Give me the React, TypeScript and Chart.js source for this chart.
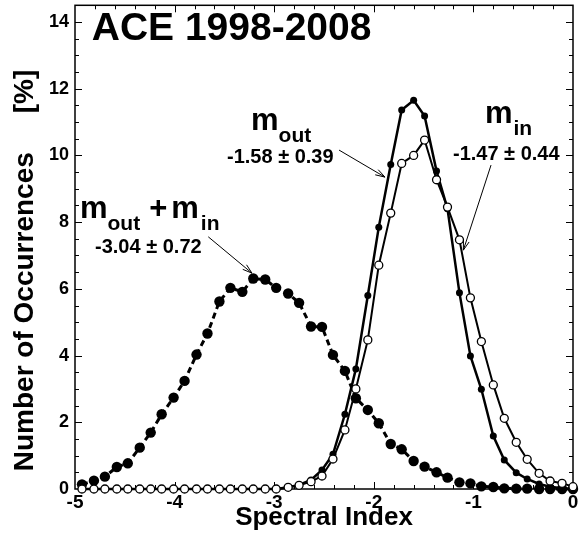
import React, { useEffect, useRef } from "react";
import { Chart, registerables } from "chart.js";

Chart.register(...registerables);

// ---- data ----
const xBins = [
  -4.93, -4.81, -4.7, -4.58, -4.47, -4.35, -4.24, -4.13, -4.01, -3.9, -3.78,
  -3.67, -3.55, -3.44, -3.32, -3.21, -3.09, -2.98, -2.86, -2.75, -2.63, -2.52,
  -2.41, -2.29, -2.18, -2.06, -1.95, -1.83, -1.72, -1.6, -1.49, -1.37, -1.26,
  -1.14, -1.03, -0.92, -0.8, -0.69, -0.57, -0.46, -0.34, -0.23, -0.11, 0.0,
];
const sumVals = [
  0.14, 0.25, 0.37, 0.66, 0.77, 1.24, 1.69, 2.24, 2.74, 3.24, 4.03,
  4.66, 5.62, 6.03, 5.91, 6.31, 6.28, 6.03, 5.86, 5.58, 4.87, 4.86,
  4.02, 3.54, 2.72, 2.37, 1.97, 1.35, 1.19, 0.84, 0.67, 0.5, 0.34,
  0.2, 0.17, 0.08, 0.06, 0.02, 0.01, 0.01, 0.0, 0.0, 0.0, 0.0,
];
const outVals = [
  0, 0, 0, 0, 0, 0, 0, 0, 0, 0, 0,
  0, 0, 0, 0, 0, 0, 0.0, 0.05, 0.12, 0.27, 0.57,
  1.04, 2.24, 3.6, 5.8, 7.85, 9.73, 11.36, 11.65, 11.18, 9.53, 8.4,
  5.88, 3.99, 2.99, 1.59, 0.87, 0.49, 0.3, 0.15, 0.07, 0.02, 0.0,
];
const inVals = [
  0, 0, 0, 0, 0, 0, 0, 0, 0, 0, 0,
  0, 0, 0, 0, 0, 0, 0.0, 0.05, 0.11, 0.22, 0.39,
  0.9, 1.77, 3.0, 4.47, 6.71, 8.27, 9.76, 10.0, 10.46, 9.27, 8.45,
  7.47, 5.73, 4.42, 3.12, 2.12, 1.4, 0.89, 0.47, 0.24, 0.17, 0.07,
];

const xMin = -5;
const xMax = 0;
const yMin = 0;
const yMax = 14.5;
const xMajorStep = 1;
const xMinorStep = 0.2;
const yMajorStep = 2;
const yMinorStep = 0.5;

const titleText = "ACE 1998-2008";
const xTitle = "Spectral Index";
const yTitle = "Number of Occurrences     [%]      ";
const sumStat = "-3.04 ± 0.72";
const outStat = "-1.58 ± 0.39";
const inStat = "-1.47 ± 0.44";

// annotation anchors (data coordinates)
const titlePos = { x: -4.832, y: 13.47 };
const sumLabelPos = { x: -4.95, y: 8.11 };
const sumStatPos = { x: -4.799, y: 7.07 };
const sumArrow = { x1: -3.662, y1: 7.56, x2: -3.223, y2: 6.47 };
const outLabelPos = { x: -3.233, y: 10.75 };
const outStatPos = { x: -3.474, y: 9.76 };
const outArrow = { x1: -2.349, y1: 10.16, x2: -1.888, y2: 9.35 };
const inLabelPos = { x: -0.884, y: 10.96 };
const inStatPos = { x: -1.205, y: 9.86 };
const inArrow = { x1: -0.823, y1: 9.71, x2: -1.101, y2: 7.16 };

const FONT = '"Liberation Sans", Arial, Helvetica, sans-serif';

const toPoints = (vals: number[]) => vals.map((v, i) => ({ x: xBins[i], y: v }));

const framePlugin = {
  id: "frameTicks",
  beforeDatasetsDraw(chart: any) {
    const { ctx, chartArea, scales } = chart;
    const xs = scales.x;
    const ys = scales.y;
    const { left, right, top, bottom } = chartArea;
    ctx.save();
    ctx.strokeStyle = "#000";
    ctx.lineWidth = 1;
    ctx.beginPath();
    const nX = Math.round((xMax - xMin) / xMinorStep);
    for (let i = 1; i < nX; i++) {
      const v = xMin + i * xMinorStep;
      const major = Math.abs(v / xMajorStep - Math.round(v / xMajorStep)) < 1e-6;
      const len = major ? 7 : 4;
      const p = Math.round(xs.getPixelForValue(v)) + 0.5;
      ctx.moveTo(p, bottom);
      ctx.lineTo(p, bottom - len);
      ctx.moveTo(p, top);
      ctx.lineTo(p, top + len);
    }
    const nY = Math.floor((yMax - yMin) / yMinorStep + 1e-6);
    for (let i = 1; i <= nY; i++) {
      const v = yMin + i * yMinorStep;
      if (v >= yMax - 1e-6) continue;
      const major = Math.abs(v / yMajorStep - Math.round(v / yMajorStep)) < 1e-6;
      const len = major ? 7 : 4;
      const p = Math.round(ys.getPixelForValue(v)) + 0.5;
      ctx.moveTo(left, p);
      ctx.lineTo(left + len, p);
      ctx.moveTo(right, p);
      ctx.lineTo(right - len, p);
    }
    ctx.stroke();
    ctx.lineWidth = 1.5;
    ctx.strokeRect(left, top, right - left, bottom - top);
    ctx.restore();
  },
};

type Piece = { t: string; size: number; dy?: number; gap?: number };

const annotatePlugin = {
  id: "annotate",
  afterDatasetsDraw(chart: any) {
    const { ctx, scales } = chart;
    const px = (v: number) => scales.x.getPixelForValue(v);
    const py = (v: number) => scales.y.getPixelForValue(v);
    ctx.save();
    ctx.fillStyle = "#000";
    ctx.strokeStyle = "#000";
    ctx.textAlign = "left";
    ctx.textBaseline = "alphabetic";

    ctx.font = `bold 39px ${FONT}`;
    ctx.fillText(titleText, px(titlePos.x), py(titlePos.y));

    const drawPieces = (pieces: Piece[], pos: { x: number; y: number }) => {
      let cx = px(pos.x);
      const by = py(pos.y);
      for (const p of pieces) {
        cx += p.gap || 0;
        ctx.font = `bold ${p.size}px ${FONT}`;
        ctx.fillText(p.t, cx, by + (p.dy || 0));
        cx += ctx.measureText(p.t).width;
      }
    };

    drawPieces(
      [
        { t: "m", size: 31 },
        { t: "out", size: 21, dy: 12 },
        { t: "+", size: 31, gap: 9 },
        { t: "m", size: 31, gap: 4 },
        { t: "in", size: 21, dy: 12, gap: 2 },
      ],
      sumLabelPos
    );
    drawPieces([{ t: "m", size: 31 }, { t: "out", size: 21, dy: 12 }], outLabelPos);
    drawPieces([{ t: "m", size: 31 }, { t: "in", size: 21, dy: 12, gap: 1 }], inLabelPos);

    ctx.font = `bold 20px ${FONT}`;
    ctx.fillText(sumStat, px(sumStatPos.x), py(sumStatPos.y));
    ctx.fillText(outStat, px(outStatPos.x), py(outStatPos.y));
    ctx.fillText(inStat, px(inStatPos.x), py(inStatPos.y));

    const arrow = (a: { x1: number; y1: number; x2: number; y2: number }) => {
      const x1 = px(a.x1), y1 = py(a.y1), x2 = px(a.x2), y2 = py(a.y2);
      const ang = Math.atan2(y2 - y1, x2 - x1);
      const hl = 10, ha = 0.3;
      ctx.lineWidth = 1;
      ctx.beginPath();
      ctx.moveTo(x1, y1);
      ctx.lineTo(x2, y2);
      ctx.moveTo(x2 - hl * Math.cos(ang - ha), y2 - hl * Math.sin(ang - ha));
      ctx.lineTo(x2, y2);
      ctx.lineTo(x2 - hl * Math.cos(ang + ha), y2 - hl * Math.sin(ang + ha));
      ctx.stroke();
    };
    arrow(sumArrow);
    arrow(outArrow);
    arrow(inArrow);
    ctx.restore();
  },
};

export default function App() {
  const canvasRef = useRef<HTMLCanvasElement | null>(null);

  useEffect(() => {
    const canvas = canvasRef.current;
    if (!canvas) return;
    const chart = new Chart(canvas, {
      type: "line",
      data: {
        datasets: [
          {
            label: "m_in",
            data: toPoints(inVals),
            borderColor: "#000",
            borderWidth: 2,
            pointRadius: 4,
            pointBackgroundColor: "#fff",
            pointBorderColor: "#000",
            pointBorderWidth: 1.3,
            tension: 0,
            clip: false,
            order: 0,
          },
          {
            label: "m_out",
            data: toPoints(outVals),
            borderColor: "#000",
            borderWidth: 2.5,
            pointRadius: 3.5,
            pointBackgroundColor: "#000",
            pointBorderColor: "#000",
            pointBorderWidth: 0,
            tension: 0,
            clip: false,
            order: 1,
          },
          {
            label: "m_out + m_in",
            data: toPoints(sumVals),
            borderColor: "#000",
            borderWidth: 3,
            borderDash: [6, 4],
            pointRadius: 5.2,
            pointBackgroundColor: "#000",
            pointBorderColor: "#000",
            pointBorderWidth: 0,
            tension: 0,
            clip: false,
            order: 2,
          },
        ] as any,
      },
      options: {
        responsive: false,
        animation: false,
        events: [],
        layout: { padding: { top: 5, right: 8, left: 0, bottom: 0 } },
        plugins: {
          legend: { display: false },
          tooltip: { enabled: false },
        },
        scales: {
          x: {
            type: "linear",
            min: xMin,
            max: xMax,
            grid: { display: false, drawTicks: false },
            border: { display: false },
            ticks: {
              stepSize: xMajorStep,
              includeBounds: false,
              autoSkip: false,
              maxRotation: 0,
              padding: 2,
              color: "#000",
              font: { family: FONT, size: 19, weight: "bold" },
            },
            title: {
              display: true,
              text: xTitle,
              color: "#000",
              font: { family: FONT, size: 26, weight: "bold" },
              padding: { top: 0, bottom: 3 },
            },
            afterFit: (s: any) => {
              s.height = 47;
              s.paddingLeft = 0;
              s.paddingRight = 0;
            },
          },
          y: {
            type: "linear",
            min: yMin,
            max: yMax,
            grid: { display: false, drawTicks: false },
            border: { display: false },
            ticks: {
              stepSize: yMajorStep,
              includeBounds: false,
              padding: 6,
              color: "#000",
              font: { family: FONT, size: 18, weight: "bold" },
            },
            title: {
              display: true,
              text: yTitle,
              color: "#000",
              font: { family: FONT, size: 28, weight: "bold" },
              padding: { top: 8, bottom: 0 },
            },
            afterFit: (s: any) => {
              s.width = 75;
              s.paddingTop = 0;
              s.paddingBottom = 0;
            },
          },
        } as any,
      },
      plugins: [framePlugin, annotatePlugin],
    });
    return () => chart.destroy();
  }, []);

  return (
    <div style={{ position: "fixed", left: 0, top: 0, width: 581, height: 536, background: "#fff" }}>
      <canvas ref={canvasRef} width={581} height={536} style={{ display: "block" }} />
    </div>
  );
}
